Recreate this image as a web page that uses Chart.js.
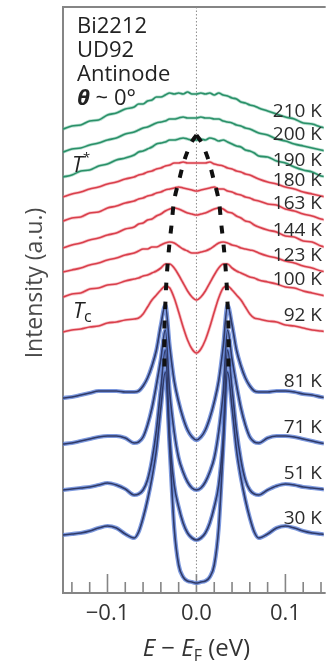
<!DOCTYPE html>
<html>
<head>
<meta charset="utf-8">
<script src="https://cdn.jsdelivr.net/npm/chart.js@4.4.1/dist/chart.umd.min.js"></script>
<style>
  html, body { margin: 0; padding: 0; background: #fff; }
  canvas { display: block; }
</style>
</head>
<body>
<canvas id="edc" width="329" height="666"></canvas>
<script>
// Symmetrized EDCs, Bi2212 UD92, antinode. Intensity in a.u. (curves already offset)
const energies = [
  -0.15, -0.14, -0.13, -0.12, -0.11, -0.10, -0.09, -0.08, -0.07,
  -0.065, -0.06, -0.055, -0.05, -0.045, -0.04, -0.035, -0.03, -0.025, -0.02, -0.015, -0.01, -0.005,
  0,
  0.005, 0.01, 0.015, 0.02, 0.025, 0.03, 0.035, 0.04, 0.045, 0.05, 0.055, 0.06, 0.065,
  0.07, 0.08, 0.09, 0.10, 0.11, 0.12, 0.13, 0.14, 0.15
];

const edc210K = [464, 467, 468, 472, 473, 478, 480, 484, 486, 489, 489, 492, 493, 496, 496, 498, 500, 499, 500, 499, 501, 499, 499,
  500, 499, 500, 498, 500, 498, 497, 495, 494, 491, 490, 488, 487, 485, 482, 479, 476, 474, 470, 469, 466, 464];
const edc200K = [441, 444, 445, 448, 450, 453, 455, 459, 461, 463, 465, 466, 468, 470, 471, 472, 474, 474, 475, 476, 475, 475, 475,
  476, 475, 475, 474, 474, 472, 471, 470, 468, 467, 465, 464, 462, 460, 458, 454, 452, 449, 447, 445, 443, 441];
const edc190K = [416, 418, 422, 423, 427, 429, 433, 435, 438, 441, 442, 444, 446, 449, 450, 451, 453, 453, 454, 455, 454, 453, 453,
  454, 453, 455, 454, 452, 453, 451, 449, 447, 446, 443, 442, 440, 437, 436, 432, 430, 426, 423, 421, 417, 416];
const edc180K = [396, 399, 401, 404, 406, 409, 411, 414, 416, 418, 419, 421, 422, 424, 425, 427, 428, 430, 430, 431, 430, 430, 430,
  430, 430, 431, 429, 428, 427, 425, 424, 422, 421, 419, 418, 416, 414, 411, 409, 406, 404, 401, 399, 397, 395];
const edc163K = [372, 375, 376, 380, 381, 385, 387, 390, 392, 394, 395, 397, 398, 400, 401, 403, 404, 405, 406, 405, 404, 403, 402,
  403, 404, 405, 406, 404, 404, 402, 401, 399, 398, 396, 395, 393, 392, 389, 388, 384, 382, 379, 377, 374, 372];
const edc144K = [345, 348, 350, 353, 355, 358, 360, 364, 366, 369, 370, 373, 374, 377, 379, 382, 384, 385, 384, 382, 380, 379, 378,
  379, 380, 382, 384, 385, 384, 381, 380, 377, 375, 372, 371, 368, 366, 363, 361, 357, 356, 352, 351, 347, 345];
const edc123K = [321, 323, 325, 328, 330, 333, 335, 338, 340, 342, 344, 344, 346, 346, 348, 350, 351, 350, 347, 344, 342, 340, 340,
  341, 342, 344, 347, 350, 351, 350, 348, 347, 345, 344, 343, 342, 340, 337, 335, 332, 330, 327, 325, 322, 321];
const edc100K = [296, 299, 300, 304, 305, 308, 309, 312, 314, 315, 317, 318, 320, 322, 325, 329, 329, 325, 318, 310, 302, 296, 293,
  296, 302, 310, 318, 325, 329, 329, 325, 322, 320, 318, 316, 315, 313, 311, 309, 306, 305, 302, 300, 298, 296];
const edc92K = [261, 263, 264, 266, 267, 270, 271, 273, 274, 275, 279, 286, 293, 298, 303, 307, 305, 295, 281, 266, 253, 244, 240,
  244, 253, 266, 281, 295, 305, 307, 303, 298, 293, 286, 279, 275, 274, 272, 271, 268, 267, 265, 263, 262, 261];
const edc81K = [195, 196, 198, 200, 202, 202, 202, 201, 201, 202, 207, 215, 227, 243, 268, 288, 246, 212, 191, 175, 163, 156, 153,
  156, 163, 175, 191, 212, 246, 288, 268, 243, 227, 215, 207, 202, 201, 201, 202, 202, 201, 199, 198, 196, 195];
const edc71K = [149, 150, 152, 154, 156, 157, 157, 155, 150, 151, 156, 168, 185, 208, 234, 263, 200, 161, 135, 121, 111, 105, 103,
  105, 111, 121, 135, 161, 200, 263, 234, 208, 185, 168, 156, 151, 150, 155, 157, 157, 156, 154, 152, 150, 149];
const edc51K = [103, 104, 105, 106, 108, 110, 108, 104, 98, 99, 103, 113, 133, 163, 205, 243, 155, 108, 86, 70, 60, 55, 53,
  55, 60, 70, 86, 108, 155, 243, 205, 163, 133, 113, 103, 99, 98, 103, 107, 109, 108, 106, 105, 104, 103];
const edc30K = [58, 59, 60, 62, 65, 67, 65, 59, 55, 61, 75, 93, 115, 143, 185, 221, 143, 65, 28, 16, 12, 11, 10,
  11, 12, 16, 28, 65, 143, 221, 185, 143, 115, 93, 75, 61, 55, 59, 65, 67, 65, 62, 60, 59, 58];

const tempLabels = ['210 K', '200 K', '190 K', '180 K', '163 K', '144 K', '123 K', '100 K', '92 K', '81 K', '71 K', '51 K', '30 K'];

// gap-edge (peak) trace, drawn as the thick dashed line
const peakLeftE  = [0, -0.006, -0.0135, -0.0195, -0.025, -0.028, -0.0305, -0.0325, -0.034, -0.035, -0.036, -0.036];
const peakRightE = [0,  0.006,  0.0135,  0.0195,  0.025,  0.028,  0.0305,  0.0325,  0.034,  0.035,  0.036,  0.036];
const peakI      = [458, 450, 433, 413, 393, 368, 348, 328, 308, 288, 263, 220];

const xTickValues = [-0.1, 0, 0.1];
const xTickText = ['\u22120.1', '0.0', '0.1'];

const edcSeries = [edc210K, edc200K, edc190K, edc180K, edc163K, edc144K, edc123K, edc100K, edc92K,
  edc81K, edc71K, edc51K, edc30K];

const COLORS = {
  green: { core: '#2a9068', halo: 'rgba(90,182,148,0.45)' },
  red:   { core: '#d93f4b', halo: 'rgba(240,125,135,0.45)' },
  blue:  { core: '#2f3a68', halo: 'rgba(92,128,214,0.8)' },
};
const groupOf = i => (i < 3 ? 'green' : i < 9 ? 'red' : 'blue');
const toPoints = arr => arr.map((v, i) => ({ x: energies[i], y: v }));
const FONT = "'Open Sans', sans-serif";

// datasets: first in the list is drawn on top
const datasets = [];
const peakStyle = { borderColor: '#111', borderWidth: 4, borderDash: [8, 11], borderCapStyle: 'butt', tension: 0.3, fill: false };
datasets.push({ label: 'gap left', data: peakLeftE.map((e, i) => ({ x: e, y: peakI[i] })), ...peakStyle });
datasets.push({ label: 'gap right', data: peakRightE.map((e, i) => ({ x: e, y: peakI[i] })), ...peakStyle });

const order = edcSeries.map((_, i) => i).reverse();
order.forEach(i => {
  datasets.push({
    label: tempLabels[i], data: toPoints(edcSeries[i]),
    borderColor: COLORS[groupOf(i)].core, borderWidth: 1.6,
    cubicInterpolationMode: 'monotone', fill: false,
  });
});
order.forEach(i => {
  datasets.push({
    label: tempLabels[i] + ' halo', data: toPoints(edcSeries[i]),
    borderColor: COLORS[groupOf(i)].halo, borderWidth: groupOf(i) === 'blue' ? 4.2 : 3.2,
    cubicInterpolationMode: 'monotone', fill: false,
  });
});
datasets.push({
  label: 'E_F', data: [{ x: 0, y: 0 }, { x: 0, y: 586 }],
  borderColor: '#8c8c8c', borderWidth: 1, borderDash: [1.5, 2], fill: false,
});

function drawRuns(ctx, runs, x, y, align) {
  let w = 0;
  runs.forEach(r => { ctx.font = r.font; w += ctx.measureText(r.text).width; });
  let cx = align === 'center' ? x - w / 2 : align === 'right' ? x - w : x;
  ctx.textAlign = 'left';
  runs.forEach(r => {
    ctx.font = r.font;
    ctx.fillText(r.text, cx, y + (r.dy || 0));
    cx += ctx.measureText(r.text).width;
  });
}

const decor = {
  id: 'decor',
  beforeDatasetsDraw(chart) {
    const { ctx, chartArea: a, scales: { x } } = chart;
    ctx.save();
    ctx.strokeStyle = '#858585';
    ctx.lineWidth = 2;
    ctx.beginPath();
    ctx.moveTo(a.right + 2, a.top);
    ctx.lineTo(a.left, a.top);
    ctx.lineTo(a.left, a.bottom);
    ctx.lineTo(a.right + 2, a.bottom);
    ctx.stroke();
    // inward ticks every 0.02 eV, longer at every 0.1 eV
    ctx.lineWidth = 1.6;
    x.ticks.forEach(t => {
      const px = x.getPixelForValue(t.value);
      const major = Math.abs(t.value * 10 - Math.round(t.value * 10)) < 1e-6;
      ctx.beginPath();
      ctx.moveTo(px, a.bottom);
      ctx.lineTo(px, a.bottom - (major ? 19 : 11));
      ctx.stroke();
    });
    ctx.restore();
  },
  afterDraw(chart) {
    const { ctx, chartArea: a, scales: { x, y } } = chart;
    ctx.save();
    ctx.fillStyle = '#222';
    ctx.textBaseline = 'alphabetic';

    // sample info
    const info = `22px ${FONT}`;
    drawRuns(ctx, [{ text: 'Bi2212', font: info }], a.left + 14, 33, 'left');
    drawRuns(ctx, [{ text: 'UD92', font: info }], a.left + 14, 57, 'left');
    drawRuns(ctx, [{ text: 'Antinode', font: info }], a.left + 14, 81, 'left');
    drawRuns(ctx, [{ text: '\u03b8', font: `italic bold 22px ${FONT}` }, { text: ' ~ 0\u00b0', font: info }], a.left + 14, 105, 'left');

    // T* and Tc markers
    drawRuns(ctx, [{ text: 'T', font: `italic 22px ${FONT}` }, { text: '*', font: `13px ${FONT}`, dy: -10 }], a.left + 9, 172, 'left');
    drawRuns(ctx, [{ text: 'T', font: `italic 22px ${FONT}` }, { text: 'c', font: `16px ${FONT}`, dy: 4 }], a.left + 10, 318, 'left');

    // temperature labels, just above each curve's right end
    ctx.fillStyle = '#2b2b2b';
    const iEnd = energies.indexOf(0.14);
    edcSeries.forEach((s, i) => {
      const py = y.getPixelForValue(s[iEnd]);
      drawRuns(ctx, [{ text: tempLabels[i], font: `19px ${FONT}` }], 322, py - 10, 'right');
    });

    // axis titles
    ctx.fillStyle = '#333';
    drawRuns(ctx, [
      { text: 'E', font: `italic 24px ${FONT}` },
      { text: ' \u2212 ', font: `24px ${FONT}` },
      { text: 'E', font: `italic 24px ${FONT}` },
      { text: 'F', font: `16px ${FONT}`, dy: 5 },
      { text: ' (eV)', font: `24px ${FONT}` },
    ], x.getPixelForValue(0), 656, 'center');

    ctx.fillStyle = '#4a4a4a';
    ctx.translate(35, 283);
    ctx.rotate(-Math.PI / 2);
    ctx.font = `23px ${FONT}`;
    ctx.textAlign = 'center';
    ctx.textBaseline = 'middle';
    ctx.fillText('Intensity (a.u.)', 0, 0);
    ctx.restore();
  }
};

new Chart(document.getElementById('edc'), {
  type: 'line',
  data: { datasets },
  options: {
    responsive: false,
    animation: false,
    layout: { padding: { left: 63, top: 7, right: 0, bottom: 0 } },
    plugins: { legend: { display: false }, tooltip: { enabled: false } },
    elements: { point: { radius: 0 } },
    scales: {
      x: {
        type: 'linear', min: -0.15, max: 0.143,
        afterFit: s => { s.height = 73; },
        border: { display: false },
        grid: { display: false, drawTicks: false },
        ticks: {
          stepSize: 0.02, includeBounds: false, autoSkip: false, maxRotation: 0, padding: 8,
          color: '#333', font: { family: FONT, size: 22 },
          callback: v => {
            const k = xTickValues.findIndex(t => Math.abs(t - v) < 1e-9);
            return k >= 0 ? xTickText[k] : '';
          }
        }
      },
      y: { display: false, min: 0, max: 586 }
    }
  },
  plugins: [decor]
});
</script>
</body>
</html>
